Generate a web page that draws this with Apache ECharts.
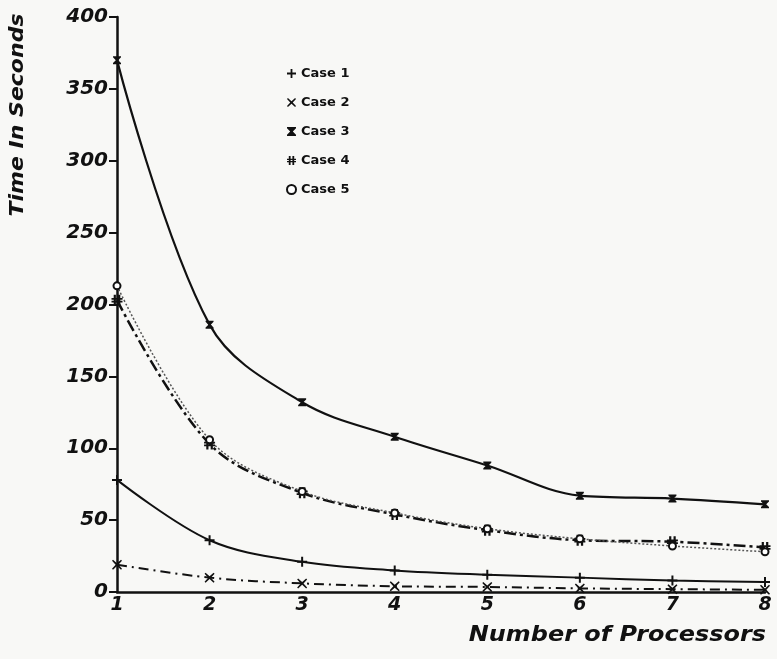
<!DOCTYPE html>
<html>
<head>
<meta charset="utf-8">
<script src="https://cdn.jsdelivr.net/npm/echarts@6/dist/echarts.min.js"></script>
<style>html,body{margin:0;padding:0;background:#f8f8f6;}#c{width:777px;height:659px;}</style>
</head>
<body>
<div id="c"></div>
<script>
var processors = [1, 2, 3, 4, 5, 6, 7, 8];
var case1 = [78, 36, 21, 15, 12, 10, 8, 7];
var case2 = [19, 10, 6, 4, 3.5, 2.5, 2, 1.5];
var case3 = [370, 186, 132, 108, 88, 67, 65, 61];
var case4 = [203, 103, 69, 54, 43, 36, 35, 31];
var case5 = [213, 106, 70, 55, 44, 37, 32, 28];
var yTicks = [0, 50, 100, 150, 200, 250, 300, 350, 400];
var seriesNames = ['Case 1', 'Case 2', 'Case 3', 'Case 4', 'Case 5'];

var SYM_PLUS = 'path://M4,0H6V4H10V6H6V10H4V6H0V4H4Z';
var SYM_X = 'path://M1,0L5,3.6L9,0L10,1L6.4,5L10,9L9,10L5,6.4L1,10L0,9L3.6,5L0,1Z';
var SYM_HOUR = 'path://M0,0H10V1.5L6.5,5L10,8.5V10H0V8.5L3.5,5L0,1.5Z';
var SYM_HASH = 'path://M2,0H4V3H6V0H8V3H10V4.5H8V5.5H10V7H8V10H6V7H4V10H2V7H0V5.5H2V4.5H0V3H2ZM4,4.5V5.5H6V4.5Z';

function pairs(arr) { return processors.map(function (p, i) { return [p, arr[i]]; }); }

var font = '"DejaVu Sans", "Liberation Sans", Arial, sans-serif';
var chart = echarts.init(document.getElementById('c'));
chart.setOption({
  backgroundColor: '#f8f8f6',
  animation: false,
  grid: { left: 117, right: 12, top: 17, bottom: 67, containLabel: false },
  xAxis: {
    type: 'value', min: 1, max: 8, interval: 1,
    axisLine: { lineStyle: { color: '#111', width: 2.5 } },
    axisTick: { show: false },
    splitLine: { show: false },
    axisLabel: { color: '#111', fontFamily: font, fontWeight: 'bold', fontStyle: 'italic', fontSize: 19, margin: 4 }
  },
  yAxis: {
    type: 'value', min: 0, max: 400, interval: 50,
    axisLine: { show: true, lineStyle: { color: '#111', width: 2.5 } },
    axisTick: { show: true, inside: false, length: 8, lineStyle: { color: '#111', width: 2 } },
    splitLine: { show: false },
    axisLabel: { color: '#111', fontFamily: font, fontWeight: 'bold', fontStyle: 'italic', fontSize: 20, margin: 9,
      formatter: function (v) { return yTicks.indexOf(v) >= 0 ? String(v) : ''; } }
  },
  legend: {
    orient: 'vertical', left: 281, top: 62, itemGap: 16, itemWidth: 9, itemHeight: 9,
    textStyle: { color: '#111', fontFamily: font, fontWeight: 'bold', fontSize: 13 },
    data: [
      { name: 'Case 1', icon: SYM_PLUS },
      { name: 'Case 2', icon: SYM_X },
      { name: 'Case 3', icon: SYM_HOUR },
      { name: 'Case 4', icon: SYM_HASH },
      { name: 'Case 5', icon: 'emptyCircle' }
    ]
  },
  graphic: [
    { type: 'text', x: 18, y: 115, rotation: Math.PI / 2, scaleX: 1.1,
      style: { text: 'Time In Seconds', fill: '#111', font: 'italic bold 20px ' + font, align: 'center', verticalAlign: 'middle' } },
    { type: 'text', x: 766, y: 636, scaleX: 1.14,
      style: { text: 'Number of Processors', fill: '#111', font: 'italic bold 21px ' + font, align: 'right', verticalAlign: 'middle' } }
  ],
  series: [
    { name: seriesNames[0], type: 'line', smooth: 0.35, data: pairs(case1),
      symbol: SYM_PLUS, symbolSize: 10, itemStyle: { color: '#111' },
      lineStyle: { color: '#111', width: 2, type: 'solid' } },
    { name: seriesNames[1], type: 'line', smooth: 0.35, data: pairs(case2),
      symbol: SYM_X, symbolSize: 10, itemStyle: { color: '#111' },
      lineStyle: { color: '#111', width: 2, type: [10, 5, 2, 5] } },
    { name: seriesNames[2], type: 'line', smooth: 0.35, data: pairs(case3),
      symbol: SYM_HOUR, symbolSize: 8, itemStyle: { color: '#111' },
      lineStyle: { color: '#111', width: 2.2, type: 'solid' } },
    { name: seriesNames[3], type: 'line', smooth: 0.35, data: pairs(case4),
      symbol: SYM_HASH, symbolSize: 11, itemStyle: { color: '#111' },
      lineStyle: { color: '#111', width: 2.5, type: [12, 4, 3, 4] } },
    { name: seriesNames[4], type: 'line', smooth: 0.35, data: pairs(case5),
      symbol: 'emptyCircle', symbolSize: 7, itemStyle: { color: '#111', borderColor: '#111', borderWidth: 2 },
      lineStyle: { color: '#555', width: 1.5, type: [2, 2] } }
  ]
});
</script>
</body>
</html>
